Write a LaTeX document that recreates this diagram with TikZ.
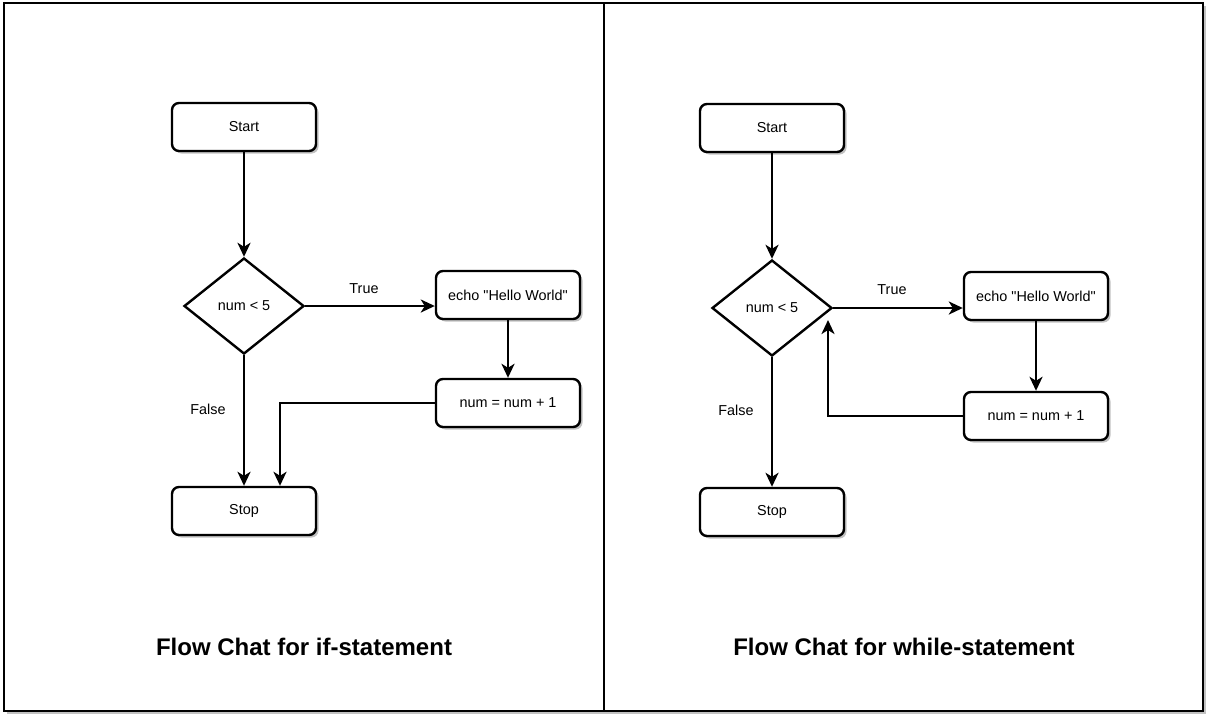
\documentclass[tikz,border=0pt]{standalone}
\usepackage{fontspec}
\setmainfont{Liberation Sans}
\usetikzlibrary{shapes.geometric,arrows.meta,shadows}

\tikzset{
	panel/.style={draw, line width=2.4pt, fill=white,
		drop shadow={shadow xshift=2.5pt, shadow yshift=-2.5pt, fill=black!40, opacity=0.6}},
	stepbox/.style={draw, line width=2.4pt, rounded corners=7pt, fill=white,
		minimum width=144pt, minimum height=48pt, inner sep=0pt,
		font=\fontsize{14.4}{17}\selectfont,
		drop shadow={shadow xshift=2.5pt, shadow yshift=-2.5pt, fill=black!40, opacity=0.6}},
	decision/.style={draw, diamond, line width=2.4pt, fill=white,
		minimum width=120pt, minimum height=96pt, inner sep=0pt,
		font=\fontsize{14.4}{17}\selectfont},
	tag/.style={inner sep=0pt, font=\fontsize{14.4}{17}\selectfont},
	caption/.style={inner sep=0pt, font=\fontsize{24}{28}\selectfont\bfseries},
	flow/.style={line width=2.5pt, -{Stealth[length=14pt, width=13pt, inset=4pt]}},
}

\begin{document}
\begin{tikzpicture}[x=1pt, y=-1pt]
	\useasboundingbox (0,0) rectangle (1209,716);

% The two frames
\path[panel] (4,3) rectangle (604,711);
\path[panel] (604,3) rectangle (1203,711);

% if-statement
\node[stepbox] (ifstart) at (244,127) {Start};
\node[decision] (iftest) at (244,306) {num < 5};
\node[stepbox] (ifecho) at (508,295) {echo \textquotedbl Hello World\textquotedbl};
\node[stepbox] (ifinc) at (508,403) {num = num + 1};
\node[stepbox] (ifstop) at (244,511) {Stop};
\node[tag] (iftrue) at (364,289) {True};
\node[tag] (iffalse) at (208,409) {False};
\node[caption] (ifcaption) at (304,647) {Flow Chat for if-statement};

\draw[flow] (ifstart) -- (iftest);
\draw[flow] (iftest.east) -- (iftest.east -| ifecho.west);
\draw[flow] (ifecho) -- (ifinc);
\draw[flow] (ifinc.west) -| ([xshift=36pt]ifstop.north);
\draw[flow] (iftest) -- (ifstop);

% while-statement
\node[stepbox] (whstart) at (772,128) {Start};
\node[decision] (whtest) at (772,308) {num < 5};
\node[stepbox] (whecho) at (1036,296) {echo \textquotedbl Hello World\textquotedbl};
\node[stepbox] (whinc) at (1036,416) {num = num + 1};
\node[stepbox] (whstop) at (772,512) {Stop};
\node[tag] (whtrue) at (892,290) {True};
\node[tag] (whfalse) at (736,410) {False};
\node[caption] (whcaption) at (904,647) {Flow Chat for while-statement};
\coordinate (whback) at (828,320);

\draw[flow] (whstart) -- (whtest);
\draw[flow] (whtest.east) -- (whtest.east -| whecho.west);
\draw[flow] (whecho) -- (whinc);
\draw[flow] (whinc.west) -| (whback);
\draw[flow] (whtest) -- (whstop);
\end{tikzpicture}
\end{document}
